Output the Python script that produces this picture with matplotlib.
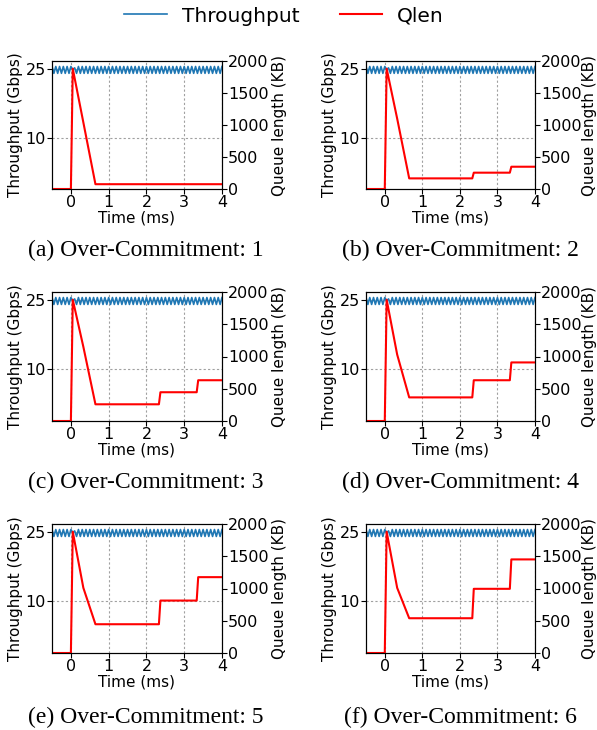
import numpy as np
import matplotlib.pyplot as plt

# throughput samples every 0.05 ms from -0.5 to 4.0 ms (Gbps)
thr_step = 0.05
throughput = [
    25.6, 24.1, 25.6, 24.1, 25.6, 24.1, 25.6, 24.1, 25.6, 24.1,
    25.6, 24.9, 25.3, 24.1, 25.6, 24.1, 25.6, 24.1, 25.6, 24.1,
    25.6, 24.1, 25.6, 24.1, 25.6, 24.1, 25.6, 24.1, 25.6, 24.1,
    25.6, 24.1, 25.6, 24.1, 25.6, 24.1, 25.6, 24.1, 25.6, 24.1,
    25.6, 24.1, 25.6, 24.1, 25.6, 24.1, 25.6, 24.1, 25.6, 24.1,
    25.6, 24.1, 25.6, 24.1, 25.6, 24.1, 25.6, 24.1, 25.6, 24.1,
    25.6, 24.1, 25.6, 24.1, 25.6, 24.1, 25.6, 24.1, 25.6, 24.1,
    25.6, 24.1, 25.6, 24.1, 25.6, 24.1, 25.6, 24.1, 25.6, 24.1,
    25.6, 24.1, 25.6, 24.1, 25.6, 24.1, 25.6, 24.1, 25.6, 24.1,
    25.6,
]

# queue length (KB) breakpoints per over-commitment level
q_time = [-0.5, 0.0, 0.05, 0.33, 0.65, 2.33, 2.37, 3.33, 3.37, 4.0]
qlen = {
    1: [0, 0, 1880, 1040, 75, 75, 75, 75, 75, 75],
    2: [0, 0, 1880, 1100, 166, 166, 255, 255, 348, 348],
    3: [0, 0, 1880, 1150, 259, 259, 446, 446, 632, 632],
    4: [0, 0, 1880, 1030, 366, 366, 632, 632, 908, 908],
    5: [0, 0, 1880, 1010, 446, 446, 813, 813, 1176, 1176],
    6: [0, 0, 1880, 1010, 539, 539, 995, 995, 1451, 1451],
}
letters = ["a", "b", "c", "d", "e", "f"]

W, H = 597, 730
fig = plt.figure(figsize=(W / 100, H / 100), dpi=100)

cols = [(52, 170), (366, 169)]
rows = [(61, 128), (292, 129), (524, 129)]
cap_x = [146, 460]
cap_y = [250, 482, 717]

thr_t = -0.5 + thr_step * np.arange(len(throughput))

for i, oc in enumerate(qlen):
    r, c = divmod(i, 2)
    x0, w = cols[c]
    y0, h = rows[r]
    ax = fig.add_axes([x0 / W, 1 - (y0 + h) / H, w / W, h / H])
    l1, = ax.plot(thr_t, throughput, color="#1f77b4", lw=1.2, label="Throughput")
    ax.set_xlim(-0.5, 4)
    ax.set_ylim(-1.2, 26.8)
    ax.set_yticks([10, 25])
    ax.set_xticks([0, 1, 2, 3, 4])
    ax.grid(True, color="#a0a0a0", linestyle=(0, (2, 2)), linewidth=0.8)
    ax.set_xlabel("Time (ms)", fontsize=11, labelpad=0)
    ax.set_ylabel("Throughput (Gbps)", fontsize=11, labelpad=2)
    ax.tick_params(labelsize=11.5, pad=1)

    ax2 = ax.twinx()
    l2, = ax2.plot(q_time, qlen[oc], color="red", lw=1.5, label="Qlen")
    ax2.set_ylim(0, 2000)
    ax2.set_yticks([0, 500, 1000, 1500, 2000])
    ax2.set_ylabel("Queue length (KB)", fontsize=11, labelpad=2 if c == 0 else 0)
    ax2.tick_params(labelsize=11.5, pad=1)

    fig.text(cap_x[c] / W, 1 - cap_y[r] / H,
             f"({letters[i]}) Over-Commitment: {oc}",
             ha="center", va="center", fontsize=17, family="Liberation Serif")

fig.legend([l1, l2], ["Throughput", "Qlen"], loc="center",
           bbox_to_anchor=(284 / W, 1 - 16 / H), ncol=2, frameon=False,
           fontsize=14.5, handlelength=2.1, handletextpad=0.75, columnspacing=2.0)

fig.savefig("out.png", dpi=100)
